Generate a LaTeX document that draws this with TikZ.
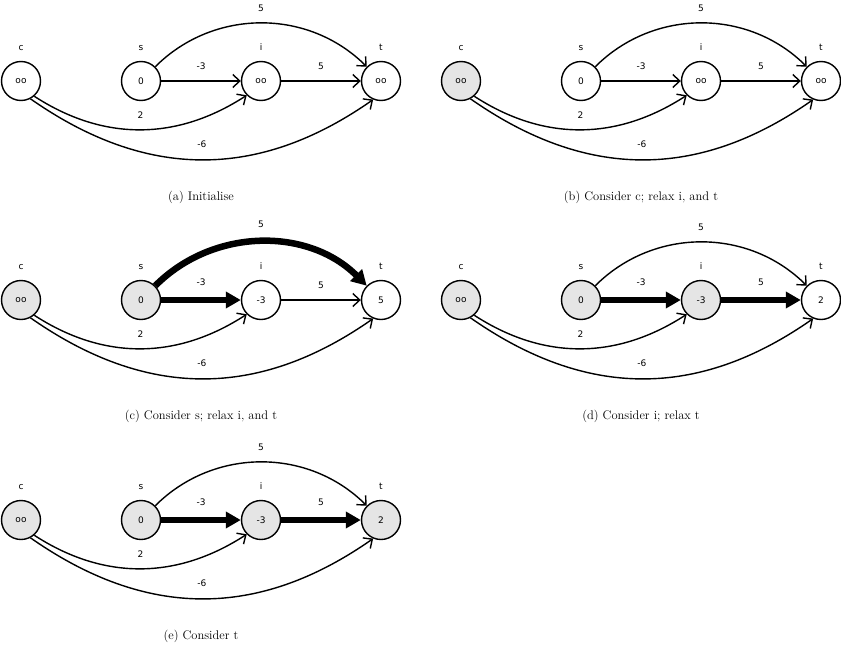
\documentclass[tikz,border=0pt]{standalone}
\usepackage{fontspec}
\usetikzlibrary{arrows.meta}
\newfontfamily\lblfont{DejaVu Sans}
\definecolor{visitfill}{RGB}{229,229,229}
\tikzset{
  x=1pt,y=1pt,
  vtx/.style={circle,draw,line width=1.4pt,minimum size=39pt,inner sep=0pt,fill=white,
    font=\lblfont\fontsize{9}{10}\selectfont},
  visited/.style={fill=visitfill},
  lbl/.style={inner sep=0pt,font=\lblfont\fontsize{9}{10}\selectfont},
  wlab/.style={midway,above=11pt,inner sep=0pt,font=\lblfont\fontsize{9}{10}\selectfont},
  edge/.style={line width=1.4pt,-{Straight Barb[length=7pt,width=13pt,line width=1.4pt]}},
  heavy/.style={line width=6.5pt,-{Triangle[length=15pt,width=16pt]}},
  captext/.style={inner sep=0pt,font=\fontsize{12.5}{14}\selectfont},
  cst/.style={},sst/.style={},ist/.style={},tst/.style={},
  est/.style={edge},esi/.style={edge},eit/.style={edge},
  every label/.style={lbl},
  label distance=10pt
}
\newcommand\dpanel[7]{%
  \begin{scope}[shift={(#2,#3)},#7]
    \node[vtx,cst,label={above:c}] (#1c) at (21,-81) {oo};
    \node[vtx,sst,label={above:s}] (#1s) at (141,-81) {0};
    \node[vtx,ist,label={above:i}] (#1i) at (261,-81) {#4};
    \node[vtx,tst,label={above:t}] (#1t) at (381,-81) {#5};
    \draw[est] (#1s) to[out=45,in=135] node[wlab]{5} (#1t);
    \draw[esi] (#1s) -- node[wlab]{-3} (#1i);
    \draw[eit] (#1i) -- node[wlab]{5} (#1t);
    \draw[edge] (#1c.-49) to[out=-33,in=-147,looseness=1.0] node[wlab]{2} (#1i.-135);
    \draw[edge] (#1c.-62) to[out=-35,in=-145,looseness=1.05] node[wlab]{-6} (#1t.-113);
    \node[captext] (#1cap) at (201,-197) {#6};
  \end{scope}}
\begin{document}
\begin{tikzpicture}
  \useasboundingbox (0,0) rectangle (841,-648);
  \dpanel{a}{0}{0}{oo}{oo}{(a) Initialise}{}
  \dpanel{b}{440}{0}{oo}{oo}{(b) Consider c; relax i, and t}{cst/.style={visited}}
  \dpanel{c}{0}{-219}{-3}{5}{(c) Consider s; relax i, and t}{cst/.style={visited},sst/.style={visited},est/.style={heavy},esi/.style={heavy}}
  \dpanel{d}{440}{-219}{-3}{2}{(d) Consider i; relax t}{cst/.style={visited},sst/.style={visited},ist/.style={visited},esi/.style={heavy},eit/.style={heavy}}
  \dpanel{e}{0}{-439}{-3}{2}{(e) Consider t}{cst/.style={visited},sst/.style={visited},ist/.style={visited},tst/.style={visited},esi/.style={heavy},eit/.style={heavy}}
\end{tikzpicture}
\end{document}
